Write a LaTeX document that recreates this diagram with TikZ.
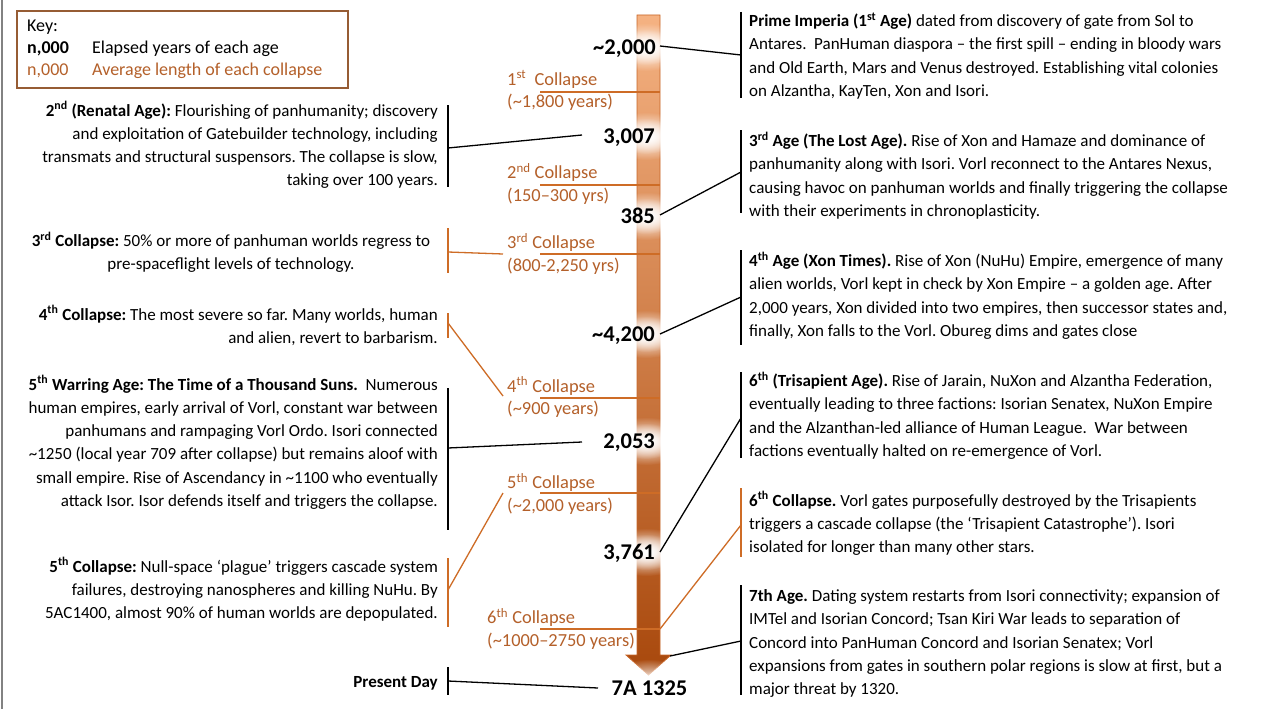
\documentclass[tikz,border=0pt]{standalone}
\usepackage{fontspec}
\setmainfont{Carlito}
\usetikzlibrary{fadings}
\definecolor{cbrown}{RGB}{180,96,42}
\definecolor{cline}{RGB}{206,108,38}
\definecolor{keybd}{RGB}{150,92,52}
\definecolor{atop}{RGB}{245,178,130}
\definecolor{amid}{RGB}{237,124,46}
\definecolor{abot}{RGB}{168,72,12}
\definecolor{aedge}{RGB}{200,102,40}
\definecolor{leftgray}{RGB}{130,130,130}
\tikzfading[name=glow, inner color=transparent!0, outer color=transparent!100]
\frenchspacing
\begin{document}
\begin{tikzpicture}[x=1pt,y=-1pt,
  body/.style={font=\fontsize{17}{23.3}\selectfont, inner sep=0pt},
  lbody/.style={body, align=right, anchor=base east},
  rbody/.style={body, align=left, anchor=base west},
  num/.style={font=\fontsize{22.5}{26}\selectfont\bfseries, inner sep=0pt, anchor=base east},
  clab/.style={font=\fontsize{18.4}{22.5}\selectfont, text=cbrown, inner sep=0pt, align=left, anchor=base west},
  keyt/.style={font=\fontsize{18}{22}\selectfont, inner sep=0pt, anchor=base west},
  brk/.style={line width=1.6pt, black},
  obrk/.style={line width=1.6pt, cline},
  conn/.style={line width=1.3pt, black},
  oconn/.style={line width=1.3pt, cline},
  uline/.style={line width=1.8pt, cline},
  glowfill/.style={white, path fading=glow},
]
\useasboundingbox (0,0) rectangle (1263,709);
\fill[white] (0,0) rectangle (1263,709);
\draw[leftgray, line width=2.2pt] (2,0) -- (2,709);

% ---------- key ----------
\node[draw=keybd, line width=1.6pt, minimum width=331pt, minimum height=77pt, anchor=north west, inner sep=0pt] (key) at (16,10) {};
\node[keyt] (k0) at (27,32) {Key:};
\node[keyt] (k1) at (27,53.5) {\textbf{n,000}};
\node[keyt] (k1t) at (92,53.5) {Elapsed years of each age};
\node[keyt, text=cbrown] (k2) at (27,75) {n,000};
\node[keyt, text=cbrown] (k2t) at (92,75) {Average length of each collapse};

% ---------- central arrow ----------
\shade[top color=atop, middle color=amid, bottom color=abot, draw=aedge, line width=0.8pt]
  (637,15) -- (660,15) -- (660,655) -- (671,655) -- (648.5,675) -- (626,655) -- (637,655) -- cycle;

% collapse underlines
\coordinate (u1a) at (540,92);  \coordinate (u1b) at (660,92);
\coordinate (u2a) at (540,185); \coordinate (u2b) at (660,185);
\coordinate (u3a) at (540,254); \coordinate (u3b) at (660,254);
\coordinate (u4a) at (540,398); \coordinate (u4b) at (660,398);
\coordinate (u5a) at (540,493); \coordinate (u5b) at (660,493);
\coordinate (u6a) at (540,629); \coordinate (u6b) at (660,629);
\foreach \i in {1,...,6} {\draw[uline] (u\i a) -- (u\i b);}

% glows
\foreach \y in {47,136,216,334,441,552} {
  \fill[glowfill] (646,\y) ellipse (44pt and 24pt);
  \fill[glowfill] (646,\y) ellipse (30pt and 18pt);
}
\fill[glowfill] (649,681) ellipse (40pt and 22pt);

% numbers
\node[num] (n1) at (656,55) {\textasciitilde2,000};
\node[num] (n2) at (655,143) {3,007};
\node[num] (n3) at (655,223) {385};
\node[num] (n4) at (655,341.5) {\textasciitilde4,200};
\node[num] (n5) at (655,448) {2,053};
\node[num] (n6) at (655,559) {3,761};
\node[num, anchor=base] (n7) at (649.5,695) {7A 1325};

% collapse labels (anchor = baseline of last line)
\node[clab] (c1) at (507,107.5) {1\textsuperscript{st}\ \ Collapse\\(\textasciitilde1,800 years)};
\node[clab] (c2) at (507,201) {2\textsuperscript{nd} Collapse\\(150--300 yrs)};
\node[clab] (c3) at (507,271) {3\textsuperscript{rd} Collapse\\(800-2,250 yrs)};
\node[clab] (c4) at (507,414.5) {4\textsuperscript{th} Collapse\\(\textasciitilde900 years)};
\node[clab] (c5) at (507,511) {5\textsuperscript{th} Collapse\\(\textasciitilde2,000 years)};
\node[clab] (c6) at (487,646) {6\textsuperscript{th} Collapse\\(\textasciitilde1000--2750 years)};

% ---------- right texts (anchor = baseline of last line) ----------
\node[rbody] (r1) at (749,96.4) {\textbf{Prime Imperia (1\textsuperscript{st} Age)} dated from discovery of gate from Sol to\\Antares.\ \ PanHuman diaspora -- the first spill -- ending in bloody wars\\and Old Earth, Mars and Venus destroyed. Establishing vital colonies\\on Alzantha, KayTen, Xon and Isori.};
\node[rbody] (r2) at (749,216.4) {\textbf{3\textsuperscript{rd} Age (The Lost Age).} Rise of Xon and Hamaze and dominance of\\panhumanity along with Isori. Vorl reconnect to the Antares Nexus,\\causing havoc on panhuman worlds and finally triggering the collapse\\with their experiments in chronoplasticity.};
\node[rbody] (r3) at (749,336.4) {\textbf{4\textsuperscript{th} Age (Xon Times).} Rise of Xon (NuHu) Empire, emergence of many\\alien worlds, Vorl kept in check by Xon Empire -- a golden age. After\\2,000 years, Xon divided into two empires, then successor states and,\\finally, Xon falls to the Vorl. Obureg dims and gates close};
\node[rbody] (r4) at (749,456.4) {\textbf{6\textsuperscript{th} (Trisapient Age).} Rise of Jarain, NuXon and Alzantha Federation,\\eventually leading to three factions: Isorian Senatex, NuXon Empire\\and the Alzanthan-led alliance of Human League.\ \ War between\\factions eventually halted on re-emergence of Vorl.};
\node[rbody] (r5) at (749,552.6) {\textbf{6\textsuperscript{th} Collapse.} Vorl gates purposefully destroyed by the Trisapients\\triggers a cascade collapse (the ‘Trisapient Catastrophe’). Isori\\isolated for longer than many other stars.};
\node[rbody] (r6) at (749,694.7) {\textbf{7th Age.} Dating system restarts from Isori connectivity; expansion of\\IMTel and Isorian Concord; Tsan Kiri War leads to separation of\\Concord into PanHuman Concord and Isorian Senatex; Vorl\\expansions from gates in southern polar regions is slow at first, but a\\major threat by 1320.};

% ---------- left texts (anchor = baseline of last line) ----------
\node[lbody] (l1) at (438,185.9) {\textbf{2\textsuperscript{nd} (Renatal Age):} Flourishing of panhumanity; discovery\\and exploitation of Gatebuilder technology, including\\transmats and structural suspensors. The collapse is slow,\\taking over 100 years.};
\node[body, align=center, anchor=base] (l2) at (231,269.8) {\textbf{3\textsuperscript{rd} Collapse:} 50\% or more of panhuman worlds regress to\\pre-spaceflight levels of technology.};
\node[lbody] (l3) at (438,343.3) {\textbf{4\textsuperscript{th} Collapse:} The most severe so far. Many worlds, human\\and alien, revert to barbarism.};
\node[lbody] (l4) at (438,506.5) {\textbf{5\textsuperscript{th} Warring Age: The Time of a Thousand Suns.}\ \ Numerous\\human empires, early arrival of Vorl, constant war between\\panhumans and rampaging Vorl Ordo. Isori connected\\\textasciitilde1250 (local year 709 after collapse) but remains aloof with\\small empire. Rise of Ascendancy in \textasciitilde1100 who eventually\\attack Isor. Isor defends itself and triggers the collapse.};
\node[lbody] (l5) at (438,618.6) {\textbf{5\textsuperscript{th} Collapse:} Null-space ‘plague’ triggers cascade system\\failures, destroying nanospheres and killing NuHu. By\\5AC1400, almost 90\% of human worlds are depopulated.};
\node[lbody] (l6) at (438,687) {\textbf{Present Day}};

% ---------- right brackets and connectors ----------
\coordinate (rb1t) at (741,12);  \coordinate (rb1b) at (741,98);  \coordinate (rb1m) at (741,55);
\coordinate (rb2t) at (741,130); \coordinate (rb2b) at (741,213); \coordinate (rb2m) at (741,172);
\coordinate (rb3t) at (741,250); \coordinate (rb3b) at (741,345); \coordinate (rb3m) at (741,297);
\coordinate (rb4t) at (741,372); \coordinate (rb4b) at (741,458); \coordinate (rb4m) at (741,418);
\coordinate (rb5t) at (741,488); \coordinate (rb5b) at (741,557); \coordinate (rb5m) at (741,525);
\coordinate (rb6t) at (741,585); \coordinate (rb6b) at (741,695); \coordinate (rb6m) at (741,641);
\draw[brk] (rb1t) -- (rb1b);
\draw[brk] (rb2t) -- (rb2b);
\draw[brk] (rb3t) -- (rb3b);
\draw[brk] (rb4t) -- (rb4b);
\draw[obrk] (rb5t) -- (rb5b);
\draw[brk] (rb6t) -- (rb6b);

\coordinate (s1) at (660,46);
\coordinate (s3) at (660,215);
\coordinate (s4) at (660,334);
\coordinate (s6) at (660,552);
\coordinate (s7) at (670,656);
\draw[conn] (s1) -- (rb1m);
\draw[conn] (s3) -- (rb2m);
\draw[conn] (s4) -- (rb3m);
\draw[conn] (s6) -- (rb4m);
\draw[oconn] (u6b) -- (rb5m);
\draw[conn] (s7) -- (rb6m);

% ---------- left brackets and connectors ----------
\coordinate (lb1t) at (448,105); \coordinate (lb1b) at (448,187); \coordinate (lb1m) at (448,148);
\coordinate (lb2t) at (448,228); \coordinate (lb2b) at (448,273); \coordinate (lb2m) at (448,252);
\coordinate (lb3t) at (448,313); \coordinate (lb3b) at (448,338); \coordinate (lb3m) at (448,323);
\coordinate (lb4t) at (448,388); \coordinate (lb4b) at (448,530); \coordinate (lb4m) at (448,448);
\coordinate (lb5t) at (448,558); \coordinate (lb5b) at (448,627); \coordinate (lb5m) at (448,590);
\coordinate (lb6t) at (448,667); \coordinate (lb6b) at (448,695); \coordinate (lb6m) at (448,681);
\draw[brk] (lb1t) -- (lb1b);
\draw[obrk] (lb2t) -- (lb2b);
\draw[obrk] (lb3t) -- (lb3b);
\draw[brk] (lb4t) -- (lb4b);
\draw[obrk] (lb5t) -- (lb5b);
\draw[brk] (lb6t) -- (lb6b);

\coordinate (e2) at (582,135);
\coordinate (e3c) at (503,254);
\coordinate (e4c) at (503,396);
\coordinate (e5) at (582,442);
\coordinate (e5c) at (503,493);
\coordinate (e7) at (598,688);
\draw[conn] (lb1m) -- (e2);
\draw[oconn] (lb2m) -- (e3c);
\draw[oconn] (lb3m) -- (e4c);
\draw[conn] (lb4m) -- (e5);
\draw[oconn] (lb5m) -- (e5c);
\draw[conn] (lb6m) -- (e7);
\end{tikzpicture}
\end{document}
